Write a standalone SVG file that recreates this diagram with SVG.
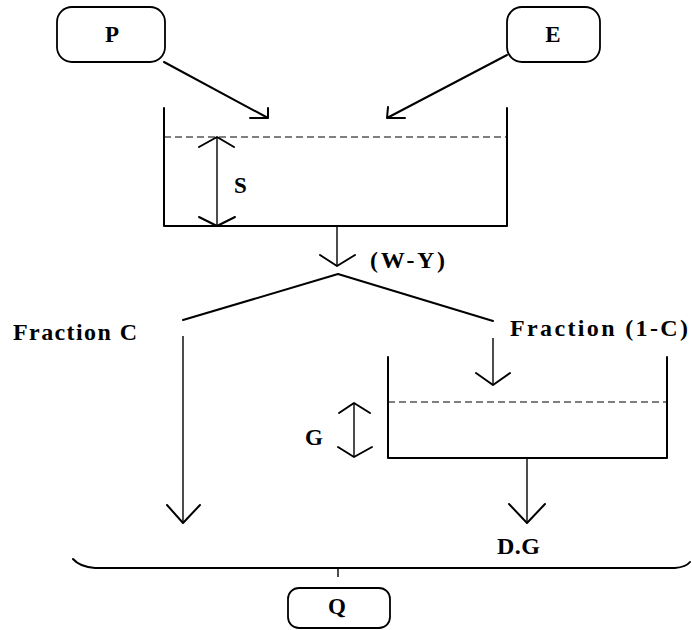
<svg xmlns="http://www.w3.org/2000/svg" width="692" height="630" viewBox="0 0 692 630">
<style>
.box{fill:none;stroke:#000;stroke-width:1.8}
.ln{fill:none;stroke:#000;stroke-width:2;stroke-linecap:round;stroke-linejoin:round}
.thin{fill:none;stroke:#000;stroke-width:1.4}
.dash{fill:none;stroke:#000;stroke-width:1.2;stroke-dasharray:7 4}
.t{font-family:"Liberation Serif","Times New Roman",serif;font-weight:bold;font-size:24px;fill:#000}
.s{font-size:23px}
</style>
<rect width="692" height="630" fill="#fff"/>
<g id="P"><rect class="box" x="57" y="7" width="108" height="55" rx="15"/><text class="t s" x="112" y="42" text-anchor="middle">P</text></g>
<g id="E"><rect class="box" x="507" y="7" width="93" height="55" rx="15"/><text class="t s" x="553" y="42" text-anchor="middle">E</text></g>
<g id="tankS">
<polyline class="ln" points="164,108 164,226 507,226 507,108" stroke-width="1.8"/>
<line class="dash" x1="164" y1="137" x2="507" y2="137"/>
<text class="t s" x="234" y="193">S</text>
</g>
<g id="tankG">
<polyline class="ln" points="388,357 388,458 667,458 667,357" stroke-width="1.8"/>
<line class="dash" x1="388" y1="402" x2="667" y2="402"/>
<text class="t s" x="305" y="445">G</text>
</g>
<g id="Q"><rect class="box" x="288" y="588" width="102" height="40" rx="11"/><text class="t s" x="337" y="614" text-anchor="middle">Q</text></g>
<g id="labels">
<text class="t" x="370" y="268" textLength="75" lengthAdjust="spacing">(W-Y)</text>
<text class="t" x="13" y="340" textLength="124" lengthAdjust="spacing">Fraction C</text>
<text class="t" x="510" y="336" textLength="178" lengthAdjust="spacing">Fraction (1-C)</text>
<text class="t" x="497" y="554" textLength="43" lengthAdjust="spacing">D.G</text>
</g>
<g id="connectors">
<path class="ln" d="M164,62 L268,118 M250,118 L268,118 L268,108"/>
<path class="ln" d="M507,55 L387,118 M405,118 L387,118 L388,107"/>
<path class="thin" d="M217,137 L217,226"/>
<path class="ln" d="M199,147 L217,137 L234,147 M199,217 L217,226 L235,217"/>
<path class="thin" d="M337,226 L337,266"/>
<path class="ln" d="M320,255 L337,266 L355,255"/>
<path class="ln" d="M183,320 L338,274 L493,321"/>
<path class="thin" d="M183,336 L183,523"/>
<path class="ln" d="M167,505 L183,523 L200,505"/>
<path class="thin" d="M493,338 L493,385"/>
<path class="ln" d="M476,373 L493,385 L510,373"/>
<path class="thin" d="M354,403 L354,457"/>
<path class="ln" d="M339,413 L354,403 L370,413 M338,447 L354,457 L372,447"/>
<path class="thin" d="M527,458 L527,523"/>
<path class="ln" d="M509,504 L527,523 L545,504"/>
<path class="ln" d="M73,559 Q80,567 95,568 L675,568 Q686,567 690,562" stroke-width="2.4"/>
<line class="thin" x1="338" y1="568" x2="338" y2="577" stroke-width="1"/>
</g>
</svg>
